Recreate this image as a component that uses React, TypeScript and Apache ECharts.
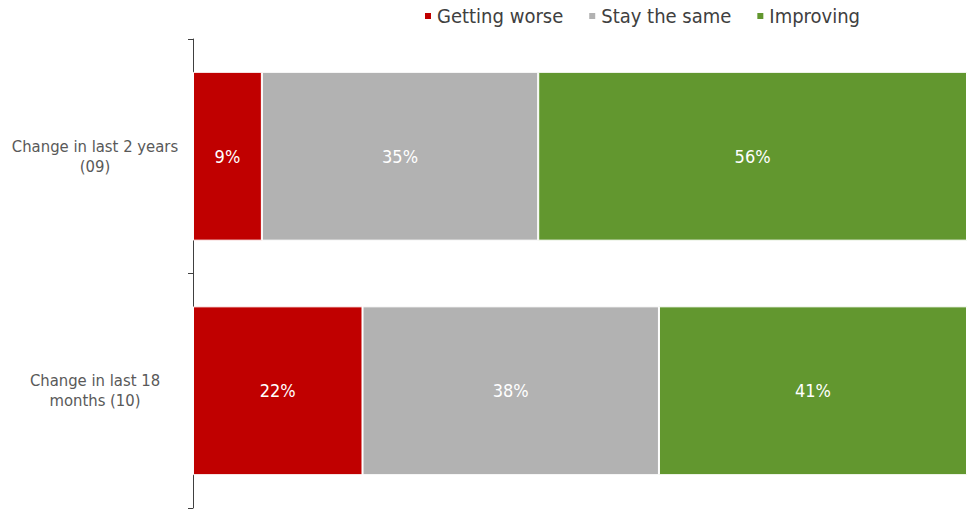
import React, { useEffect, useRef } from "react";
import * as echarts from "echarts";

const categories = ["Change in last 2 years\n(09)", "Change in last 18\nmonths (10)"];
const seriesNames = ["Getting worse", "Stay the same", "Improving"];
const seriesColors = ["#C00000", "#B2B2B2", "#62972F"];
const gettingWorse = [8.9, 21.9];
const stayTheSame = [35.7, 38.3];
const improving = [55.4, 39.8];
const gettingWorseLabels = ["9%", "22%"];
const stayTheSameLabels = ["35%", "38%"];
const improvingLabels = ["56%", "41%"];

const FONT = "'DejaVu Sans Condensed', 'Liberation Sans', sans-serif";

export default function App() {
  const ref = useRef<HTMLDivElement>(null);
  useEffect(() => {
    if (!ref.current) return;
    const chart = echarts.init(ref.current, undefined, { renderer: "svg" });
    const values = [gettingWorse, stayTheSame, improving];
    const labels = [gettingWorseLabels, stayTheSameLabels, improvingLabels];
    chart.setOption({
      animation: false,
      textStyle: { fontFamily: FONT },
      legend: {
        top: 1,
        left: 418,
        itemWidth: 8,
        itemHeight: 8,
        itemGap: 24,
        icon: "rect",
        textStyle: { fontFamily: FONT, fontSize: 20, color: "#404040" },
        data: seriesNames,
      },
      grid: { left: 193, right: 0, top: 39, bottom: 2, containLabel: false },
      xAxis: { type: "value", min: 0, max: 100, show: false },
      yAxis: {
        type: "category",
        inverse: true,
        data: categories,
        axisLine: { show: true, lineStyle: { color: "#404040", width: 1 } },
        axisTick: { show: true, length: 5, lineStyle: { color: "#404040" } },
        axisLabel: {
          fontFamily: FONT,
          fontSize: 16.5,
          color: "#595959",
          lineHeight: 20,
          align: "center",
          margin: 98,
        },
      },
      series: seriesNames.map((name, i) => ({
        name,
        type: "bar",
        stack: "total",
        barCategoryGap: "28%",
        itemStyle: { color: seriesColors[i], borderColor: "#ffffff", borderWidth: 1 },
        label: {
          show: true,
          position: "inside",
          color: "#ffffff",
          fontFamily: FONT,
          fontSize: 18,
          formatter: (p: any) => labels[i][p.dataIndex],
        },
        data: values[i],
      })),
    });
    return () => chart.dispose();
  }, []);
  return (
    <div
      ref={ref}
      style={{ position: "fixed", left: 0, top: 0, width: 967, height: 510, background: "#fff" }}
    />
  );
}
